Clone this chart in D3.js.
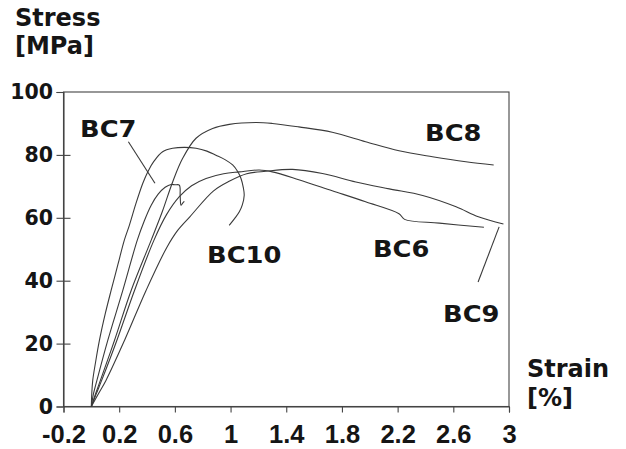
<!DOCTYPE html>
<html>
<head>
<meta charset="utf-8">
<script src="https://cdn.jsdelivr.net/npm/d3@7"></script>
<style>
  html, body { margin: 0; padding: 0; background: #fff; }
  svg { display: block; }
</style>
</head>
<body>
<script>
// Tensile test curves: strain [%] vs. stress [MPa]
const strainTicks  = [-0.2, 0.2, 0.6, 1, 1.4, 1.8, 2.2, 2.6, 3];
const strainLabels = ["-0.2", "0.2", "0.6", "1", "1.4", "1.8", "2.2", "2.6", "3"];
const stressTicks  = [0, 20, 40, 60, 80, 100];

// [strain %, stress MPa]
const bc6 = [[0,0],[0.035,4],[0.074,8.3],[0.183,21],[0.31,36.9],[0.45,52.9],[0.54,61],[0.632,66.7],
  [0.72,70.2],[0.824,72.5],[0.95,74],[1.063,74.6],[1.206,75.2],[1.3,74.6],[1.49,72.1],[1.73,68.6],
  [1.97,65.1],[2.21,61.3],[2.25,59.5],[2.5,58.3],[2.82,57.0]];
const bc7 = [[0,0],[0.015,4],[0.04,8.3],[0.118,21],[0.226,36.9],[0.33,52.9],[0.38,59],[0.43,64],
  [0.48,67.5],[0.53,69.7],[0.573,70.6],[0.6,70.5],[0.632,70.4],[0.638,67],[0.644,64.0],[0.655,64.6],[0.668,65.2]];
const bc8 = [[0,0],[0.03,4],[0.065,8.3],[0.166,21],[0.286,36.9],[0.43,52.9],[0.51,62],[0.584,71.4],
  [0.656,78.9],[0.752,85.3],[0.871,88.4],[0.991,89.7],[1.182,90.3],[1.3,90.0],[1.49,88.9],[1.73,87.2],
  [1.97,84.2],[2.21,81.3],[2.45,79.4],[2.69,77.8],[2.89,76.8]];
const bc9 = [[0,0],[0.05,4],[0.105,8.3],[0.238,21],[0.393,36.9],[0.541,50.5],[0.62,56],[0.709,60.4],
  [0.876,68.5],[0.99,71.6],[1.116,74.0],[1.254,74.8],[1.445,75.4],[1.66,74.1],[1.9,71.4],[2.14,69.2],
  [2.38,67.1],[2.62,63.5],[2.78,60.3],[2.96,58.0]];
const bc10 = [[0,0],[0.003,4],[0.01,8.3],[0.03,14],[0.058,21],[0.1,29.5],[0.142,36.9],[0.19,45],
  [0.237,52.9],[0.273,57.6],[0.32,64.5],[0.369,70.9],[0.405,74.6],[0.45,78],[0.512,81.0],[0.584,82.1],
  [0.67,82.4],[0.752,82.1],[0.83,81.2],[0.895,79.9],[0.96,78.5],[1.015,76.8],[1.05,74.8],[1.075,72.5],
  [1.092,69.5],[1.098,67.2],[1.085,64.2],[1.063,61.9],[1.03,59.8],[0.99,57.6]];

const seriesNames = ["BC6", "BC7", "BC8", "BC9", "BC10"];
const seriesData  = [bc6, bc7, bc8, bc9, bc10];

// Where each curve name sits (in strain/stress units) and optional pointer line
const labelPlacement = {
  BC7:  { at: [-0.081, 85.7], pointer: [[0.266, 84.2], [0.457, 71.0]] },
  BC8:  { at: [2.397, 84.4] },
  BC10: { at: [0.831, 45.6] },
  BC6:  { at: [2.023, 47.5] },
  BC9:  { at: [2.526, 27.0], pointer: [[2.929, 57.1], [2.778, 39.6]] }
};

const W = 626, H = 449;
const x = d3.scaleLinear().domain([-0.2, 3]).range([63.5, 509]);
const y = d3.scaleLinear().domain([0, 100]).range([406.5, 92]);

const ink = "#151515";
const lineInk = "#3a3a3a";
const boldFont = "'DejaVu Sans', sans-serif";

const svg = d3.select("body").append("svg")
  .attr("width", W).attr("height", H)
  .attr("viewBox", `0 0 ${W} ${H}`);

// plot frame
svg.append("rect")
  .attr("x", x(-0.2)).attr("y", y(100))
  .attr("width", x(3) - x(-0.2)).attr("height", y(0) - y(100))
  .attr("fill", "none").attr("stroke", "#444").attr("stroke-width", 1.1);

// stress axis: ticks cross the axis line
svg.append("g")
  .attr("transform", `translate(${x(-0.2)},0)`)
  .call(d3.axisLeft(y).tickValues(stressTicks).tickSize(7).tickPadding(3.5).tickFormat(d3.format("d")))
  .call(g => g.select(".domain").attr("stroke", "#444").attr("stroke-width", 1.1))
  .call(g => g.selectAll(".tick line")
    .attr("stroke", "#444").attr("stroke-width", 1.1)
    .attr("x1", d => (d === 0 || d === 100) ? 0 : 7))
  .call(g => g.selectAll(".tick text")
    .attr("font-family", boldFont).attr("font-weight", "bold")
    .attr("font-size", 20.5).attr("fill", ink));

// strain axis
svg.append("g")
  .attr("transform", `translate(0,${y(0)})`)
  .call(d3.axisBottom(x).tickValues(strainTicks).tickSize(6).tickFormat((d, i) => strainLabels[i]))
  .call(g => g.select(".domain").attr("stroke", "#444").attr("stroke-width", 1.1))
  .call(g => g.selectAll(".tick line").attr("stroke", "#444").attr("stroke-width", 1.1))
  .call(g => g.selectAll(".tick text")
    .attr("y", 36).attr("dy", 0)
    .attr("font-family", "'Liberation Sans', Arial, sans-serif").attr("font-weight", "bold")
    .attr("font-size", 25.5).attr("fill", ink));

// curves
const line = d3.line()
  .x(d => x(d[0])).y(d => y(d[1]))
  .curve(d3.curveCatmullRom.alpha(0.5));

svg.append("g")
  .selectAll("path")
  .data(seriesData)
  .join("path")
  .attr("d", line)
  .attr("fill", "none")
  .attr("stroke", lineInk)
  .attr("stroke-width", 1.1)
  .attr("stroke-linejoin", "round");

// curve names and pointer lines
const labels = svg.append("g");
seriesNames.forEach(name => {
  const p = labelPlacement[name];
  labels.append("text")
    .attr("transform", `translate(${x(p.at[0])},${y(p.at[1])}) scale(1.12,1)`)
    .attr("font-family", boldFont).attr("font-weight", "bold")
    .attr("font-size", 23).attr("fill", ink)
    .text(name);
  if (p.pointer) {
    labels.append("line")
      .attr("x1", x(p.pointer[0][0])).attr("y1", y(p.pointer[0][1]))
      .attr("x2", x(p.pointer[1][0])).attr("y2", y(p.pointer[1][1]))
      .attr("stroke", lineInk).attr("stroke-width", 1.1);
  }
});

// axis titles
const titles = svg.append("g")
  .attr("font-family", boldFont).attr("font-weight", "bold")
  .attr("font-size", 24).attr("fill", ink);
titles.append("text").attr("x", 15).attr("y", 26).text("Stress");
titles.append("text").attr("x", 15).attr("y", 54).text("[MPa]");
titles.append("text").attr("x", 527).attr("y", 377).text("Strain");
titles.append("text").attr("x", 527).attr("y", 406).text("[%]");
</script>
</body>
</html>
